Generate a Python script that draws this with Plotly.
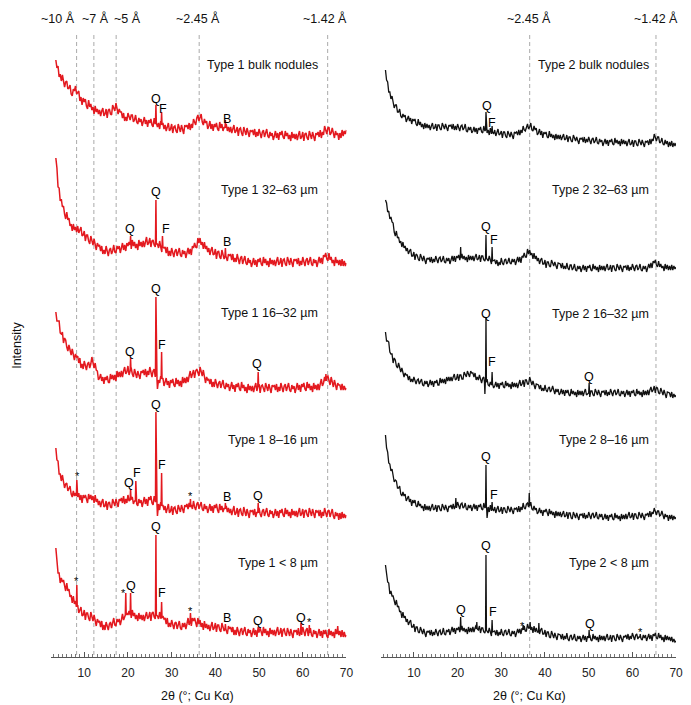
import plotly.graph_objects as go

W, H = 691, 705
FONT = "Liberation Sans, Arial, sans-serif"
RED = "#e3191f"
BLACK = "#111111"

# 2-theta sampling grid (degrees, Cu K-alpha), 0.25 deg steps from 3.5 to 70
TWO_THETA = [3.5 + 0.25 * i for i in range(267)]

# ---------------- Type 1 (red) relative intensities, 20 values per 5 deg ----------------
T1_BULK = [90,82,84,73,76,69,75,68,63,68,69,61,62,65,56,54,61,59,64,56,
           57,59,49,53,45,52,48,51,44,41,50,43,46,40,43,36,44,38,41,36,
           40,34,39,42,34,36,41,32,40,41,36,35,45,41,39,47,42,36,41,38,
           38,32,37,29,33,29,37,32,30,35,35,28,30,35,28,26,32,28,31,24,
           28,33,26,30,23,30,27,31,25,23,32,26,30,23,27,21,29,23,27,21,
           25,19,23,27,19,21,26,17,23,24,19,17,26,21,18,25,20,16,25,23,
           25,21,27,20,26,22,31,27,25,32,35,29,32,36,28,25,31,27,29,21,
           24,29,21,26,19,26,23,27,21,19,28,22,26,19,23,17,26,19,23,18,
           23,17,21,25,17,19,23,14,21,22,17,14,23,18,15,22,17,13,20,18,
           20,15,21,13,18,14,21,15,12,18,20,13,16,21,14,12,18,14,17,10,
           14,19,12,17,10,18,15,19,13,11,19,14,17,11,15,9,18,12,16,11,
           16,10,15,19,11,13,18,9,16,17,12,10,19,14,11,18,13,9,17,15,
           18,13,20,12,18,15,24,19,16,22,23,15,17,22,15,12,19,15,17,10,
           17,12,20,14,19,16,20]
T1_BULK_PK_X = [26.4, 27.7, 42.3]
T1_BULK_PK_TOP = [45, 38, 30]
T1_BULK_PK_BASE = [27, 25, 22]

T1_32_63 = [112,102,83,82,69,71,63,64,56,51,58,50,52,44,46,39,46,40,43,38,
            44,37,40,43,34,35,39,29,35,35,29,26,34,28,25,31,25,20,27,24,
            25,19,24,16,20,16,24,17,14,20,22,16,19,25,18,17,24,21,24,17,
            22,27,20,25,19,27,24,28,23,21,30,24,28,22,26,20,30,24,28,23,
            29,23,28,33,25,27,32,23,29,30,25,23,31,26,22,29,23,18,25,22,
            23,17,23,14,19,14,22,16,13,19,21,14,17,22,15,13,20,16,19,12,
            17,22,16,21,15,24,22,27,23,22,32,27,32,25,28,21,28,21,24,18,
            22,15,20,23,15,16,21,11,18,19,13,11,20,15,11,18,13,9,16,14,
            16,10,16,8,12,8,16,9,6,12,14,6,9,14,7,5,12,7,10,3,
            7,12,5,10,3,11,8,12,6,4,13,7,11,5,9,3,12,6,10,5,
            10,4,9,13,5,7,12,3,10,11,6,4,13,8,5,12,7,3,11,9,
            11,6,12,4,9,5,13,7,4,10,12,5,8,13,6,4,11,7,10,3,
            8,13,7,12,6,15,13,17,11,9,17,10,13,7,10,4,13,7,10,5,
            10,4,11,4,9,4,7]
T1_32_63_PK_X = [20.6, 26.4, 27.9, 42.3]
T1_32_63_PK_TOP = [34, 70, 34, 22]
T1_32_63_PK_BASE = [25, 26, 23, 14]

T1_16_32 = [83,74,74,74,62,61,63,52,57,55,48,44,50,44,40,46,40,35,41,38,
            39,32,37,27,31,26,34,28,25,31,33,27,31,38,31,27,32,25,24,15,
            17,21,14,18,11,18,15,19,13,12,21,16,20,15,20,14,24,18,23,18,
            24,18,24,28,21,23,29,20,26,27,21,18,26,21,17,24,20,16,24,22,
            25,20,26,18,24,20,28,22,18,24,26,18,20,24,15,12,19,14,17,9,
            12,17,10,14,7,15,12,16,10,8,17,11,15,9,14,8,18,12,17,12,
            18,13,19,24,17,20,25,17,24,26,21,19,28,22,19,25,18,12,18,15,
            16,11,16,8,13,8,16,10,7,12,14,7,10,15,8,6,12,8,11,4,
            8,13,6,10,3,11,8,12,6,4,13,7,10,4,8,2,11,5,9,4,
            9,3,8,12,4,6,11,2,9,10,5,3,12,7,4,11,6,2,10,8,
            10,5,11,3,8,4,12,6,3,9,11,4,7,12,5,3,10,6,9,2,
            7,12,5,10,3,11,8,12,6,4,13,7,11,5,9,3,12,6,10,5,
            11,5,11,16,9,12,18,10,18,19,13,10,18,12,8,15,9,5,12,10,
            10,5,11,5,9,5,7]
T1_16_32_PK_X = [20.6, 26.4, 26.75, 27.7, 49.8, 65.3]
T1_16_32_PK_TOP = [37, 98, 6, 43, 23, 21]
T1_16_32_PK_BASE = [24, 20, 15, 16, 8, 14]

T1_8_16 = [72,60,59,46,46,39,45,37,32,36,37,29,31,34,26,23,29,24,27,19,
           23,27,20,25,17,25,22,25,19,17,26,21,25,20,24,17,25,18,21,15,
           19,13,18,21,13,14,19,10,17,18,13,12,21,17,14,21,16,13,21,19,
           22,17,24,16,21,17,25,19,16,22,23,16,19,23,16,14,21,17,20,13,
           17,23,16,21,14,23,20,24,17,15,24,18,21,14,16,10,18,12,15,10,
           14,7,12,16,7,9,14,5,12,13,8,6,15,10,8,15,10,7,15,13,
           16,11,17,9,15,11,19,13,10,16,18,11,14,18,11,9,16,11,14,7,
           11,16,9,14,7,15,12,16,10,7,16,10,14,8,12,6,14,8,12,7,
           11,5,10,14,5,7,12,3,10,11,6,4,13,7,4,11,6,2,10,8,
           10,5,11,3,8,4,12,6,3,9,11,4,7,12,5,3,10,6,9,2,
           6,11,4,9,2,10,7,11,5,3,12,6,10,4,8,2,11,5,9,4,
           9,3,8,12,4,6,11,2,9,10,5,3,12,7,4,11,6,2,10,8,
           9,4,10,2,8,4,12,6,3,9,10,3,6,11,4,1,8,4,7,0,
           7,1,8,2,6,2,5]
T1_8_16_PK_X = [8.3, 20.6, 21.8, 26.4, 26.75, 27.7, 34.3, 42.3, 49.8]
T1_8_16_PK_TOP = [40, 31, 39, 108, 4, 47, 21, 17, 17]
T1_8_16_PK_BASE = [24, 20, 19, 18, 15, 14, 13, 11, 7]

T1_LT8 = [94,84,69,69,59,64,60,62,55,51,59,51,53,45,47,39,46,38,41,34,
          37,29,32,35,26,27,32,22,29,29,24,21,30,24,21,27,21,16,23,20,
          21,15,21,12,17,12,20,14,12,18,20,14,18,24,17,16,23,20,23,17,
          22,28,22,27,21,29,27,31,26,24,32,26,29,23,27,21,29,23,27,22,
          27,21,26,30,23,25,30,21,29,30,25,23,32,26,23,30,24,19,26,23,
          24,18,24,15,19,15,22,16,13,19,20,13,16,21,14,12,19,15,19,13,
          18,24,17,23,16,24,21,24,18,15,24,18,22,15,19,12,21,14,18,13,
          17,11,16,20,12,14,19,10,17,17,12,10,19,14,11,17,12,8,16,13,
          15,10,15,7,12,7,15,9,6,12,14,7,10,15,8,6,13,9,12,5,
          9,14,7,12,5,13,10,14,8,6,15,9,13,7,11,5,14,8,12,7,
          12,6,11,15,7,9,14,5,12,13,8,6,14,9,6,13,8,4,12,10,
          12,7,14,6,11,7,15,9,6,12,14,6,9,14,7,5,12,8,11,4,
          8,13,6,11,4,12,8,12,6,4,13,7,11,6,10,4,13,8,13,7,
          11,5,12,5,10,5,7]
T1_LT8_PK_X = [8.3, 19.5, 20.6, 26.4, 27.7, 34.3, 42.3, 49.8, 59.6, 61.5, 68.0]
T1_LT8_PK_TOP = [57, 49, 49, 107, 40, 29, 18, 15, 19, 17, 16]
T1_LT8_PK_BASE = [35, 27, 27, 27, 24, 20, 13, 10, 10, 9, 10]

# ---------------- Type 2 (black) relative intensities ----------------
T2_BULK = [80,70,68,58,58,51,54,46,42,45,45,38,38,41,34,32,36,33,35,28,
           31,34,29,32,26,31,29,31,26,24,31,25,28,23,26,21,27,22,26,22,
           25,20,24,27,21,22,26,19,25,25,21,20,27,23,21,26,22,19,25,24,
           25,21,26,20,24,20,26,21,19,24,25,20,22,26,19,18,23,20,23,17,
           19,23,18,22,16,22,20,23,18,17,24,19,22,17,20,15,22,16,20,16,
           20,14,18,21,15,16,19,12,18,18,14,12,19,15,13,18,14,11,18,17,
           18,15,20,15,20,17,24,20,19,24,26,21,23,27,20,19,24,20,22,15,
           17,21,15,19,12,18,16,18,13,12,19,13,16,12,15,10,16,11,15,11,
           15,10,13,16,10,11,15,8,13,13,9,8,15,11,9,13,9,6,12,11,
           12,8,13,7,11,8,13,8,6,11,12,7,9,13,7,6,11,8,10,4,
           7,11,6,10,4,10,8,11,6,5,12,7,10,6,9,4,11,6,10,6,
           9,4,8,11,5,6,10,3,9,9,5,4,11,7,5,10,6,3,9,8,
           9,5,11,6,11,9,16,11,9,13,13,7,8,12,6,5,10,6,9,3,
           8,4,9,3,7,4,7]
T2_BULK_PK_X = [26.5, 27.9]
T2_BULK_PK_TOP = [38, 24]
T2_BULK_PK_BASE = [20, 18]

T2_32_63 = [72,69,60,61,53,55,50,49,40,36,41,34,35,29,31,25,30,24,26,21,
            24,18,21,23,16,16,20,12,18,17,13,11,18,13,11,16,11,8,14,13,
            14,10,15,9,13,10,16,11,9,14,15,10,12,16,10,9,14,11,14,8,
            12,16,11,16,10,16,14,17,12,11,18,13,16,12,15,10,17,12,16,12,
            16,11,15,18,12,13,17,10,16,16,12,11,18,13,11,16,11,8,13,12,
            12,8,12,6,10,7,14,9,7,12,13,8,10,14,9,8,13,10,13,7,
            11,15,10,15,9,16,15,19,15,15,23,18,22,17,19,13,19,13,16,11,
            14,8,12,14,8,8,12,4,10,10,6,5,12,8,6,10,6,3,9,8,
            8,4,9,3,6,3,9,4,2,7,7,2,4,8,2,1,6,3,6,0,
            3,7,2,6,0,6,4,7,2,1,8,3,6,2,5,0,7,2,6,2,
            6,1,5,8,2,3,7,0,6,6,2,1,8,4,2,7,3,0,6,5,
            6,2,7,1,5,2,8,3,1,6,7,2,4,8,2,1,6,3,6,0,
            4,8,4,9,4,11,9,12,7,5,11,5,8,4,6,1,8,3,7,2,
            6,2,7,2,6,3,5]
T2_32_63_PK_X = [20.7, 26.5, 27.9]
T2_32_63_PK_TOP = [25, 37, 25]
T2_32_63_PK_BASE = [14, 14, 11]

T2_16_32 = [68,59,59,58,48,46,46,37,42,40,34,32,37,31,28,32,27,23,27,25,
            25,20,24,18,21,18,23,18,16,20,21,16,18,21,15,14,19,16,19,13,
            16,20,15,19,13,19,17,20,15,15,22,17,21,17,21,16,23,19,23,19,
            23,19,23,26,20,21,26,19,25,25,21,21,28,25,23,29,25,23,29,27,
            27,23,27,20,23,20,25,20,17,22,23,17,18,21,15,14,18,15,18,12,
            14,18,13,17,11,17,15,18,13,12,19,14,17,13,16,11,18,13,17,13,
            17,12,17,20,14,16,20,13,20,20,16,16,23,18,15,19,14,11,16,15,
            15,11,15,9,12,9,15,10,8,12,13,8,10,14,8,6,11,8,11,5,
            7,11,6,10,4,10,7,10,5,4,11,6,9,5,8,3,10,5,9,5,
            9,4,8,11,5,6,10,3,9,9,5,4,11,7,5,10,6,3,9,8,
            9,5,10,4,8,5,11,6,4,9,10,5,7,11,5,4,9,6,9,3,
            6,10,5,9,3,9,7,10,5,4,11,6,9,5,8,3,10,5,9,5,
            10,5,10,13,8,10,14,7,13,12,7,6,12,8,5,10,6,2,8,7,
            7,3,8,2,6,3,5]
T2_16_32_PK_X = [26.25, 26.5, 27.9, 50.1]
T2_16_32_PK_TOP = [6, 82, 28, 17]
T2_16_32_PK_BASE = [18, 18, 16, 7]

T2_8_16 = [87,74,70,59,58,51,53,45,40,42,41,34,34,36,28,26,30,26,28,21,
           23,26,20,23,16,22,19,22,16,15,21,16,18,14,16,11,18,12,16,12,
           16,11,15,18,12,13,17,10,16,16,12,11,18,14,12,17,13,10,16,15,
           17,13,18,13,17,14,20,15,13,18,19,14,15,19,13,12,17,14,17,11,
           14,18,13,17,11,17,15,18,13,12,19,14,17,12,15,10,17,11,15,11,
           15,9,13,16,10,11,15,8,14,14,10,9,16,12,10,15,11,8,14,13,
           14,10,16,10,15,12,19,14,13,18,19,15,17,20,13,12,16,12,14,8,
           10,14,9,12,6,12,10,13,8,6,13,8,11,7,10,4,11,6,10,6,
           10,5,8,11,5,6,10,3,9,9,4,3,10,6,4,9,5,2,8,7,
           8,4,9,3,7,4,10,5,3,8,9,4,6,10,4,3,8,5,8,2,
           4,8,3,7,1,7,5,8,3,2,9,4,7,3,6,1,8,3,7,3,
           8,3,7,10,4,5,9,2,8,8,4,3,10,6,4,9,5,2,8,7,
           9,5,11,5,10,8,14,9,7,11,11,6,7,11,5,3,8,5,7,1,
           7,3,7,2,6,3,5]
T2_8_16_PK_X = [19.6, 26.5, 26.75, 27.9, 36.4]
T2_8_16_PK_TOP = [24, 57, 4, 20, 29]
T2_8_16_PK_BASE = [16, 15, 14, 13, 16]

T2_LT8 = [80,73,63,62,51,54,49,49,43,40,45,38,39,33,34,27,33,27,29,23,
          26,20,23,25,18,18,21,13,18,18,13,12,18,14,11,16,11,8,14,13,
          14,10,15,9,13,10,16,11,9,14,15,10,12,17,11,10,15,13,16,10,
          14,18,13,17,11,17,15,18,13,12,19,14,17,13,16,11,18,13,17,13,
          18,13,17,20,14,15,19,12,17,17,13,12,19,14,12,17,13,9,15,14,
          14,10,15,9,13,10,16,11,9,14,15,10,12,16,10,9,14,11,14,8,
          12,16,12,16,11,17,15,19,14,14,21,17,20,15,18,12,19,13,17,13,
          17,11,15,17,11,11,15,8,13,13,8,7,14,10,7,12,8,5,11,10,
          10,6,11,5,9,6,12,6,4,9,10,5,7,11,5,4,9,6,9,3,
          6,10,5,9,3,9,7,10,5,4,11,6,9,5,8,3,10,5,9,5,
          9,4,8,11,5,6,10,3,9,9,5,4,11,7,5,10,6,3,9,8,
          10,6,11,5,9,6,12,7,5,10,11,6,8,12,6,5,10,7,10,4,
          7,11,6,10,4,11,9,12,7,6,12,7,10,5,8,3,10,5,9,5,
          8,4,8,3,6,3,4]
T2_LT8_PK_X = [20.7, 24.4, 26.5, 27.9, 35.0, 36.6, 38.6, 50.1, 61.8]
T2_LT8_PK_TOP = [28, 23, 90, 25, 20, 23, 22, 15, 11]
T2_LT8_PK_BASE = [15, 16, 15, 13, 15, 17, 13, 7, 8]

SAMPLES_1 = ["Type 1 bulk nodules", "Type 1 32\u201363 \u00b5m", "Type 1 16\u201332 \u00b5m",
             "Type 1 8\u201316 \u00b5m", "Type 1 < 8 \u00b5m"]
SAMPLES_2 = ["Type 2 bulk nodules", "Type 2 32\u201363 \u00b5m", "Type 2 16\u201332 \u00b5m",
             "Type 2 8\u201316 \u00b5m", "Type 2 < 8 \u00b5m"]

D_LABELS_1 = ["~10 \u00c5", "~7 \u00c5", "~5 \u00c5", "~2.45 \u00c5", "~1.42 \u00c5"]
D_POS_1 = [8.25, 12.2, 17.3, 36.3, 65.7]
D_LABELS_2 = ["~2.45 \u00c5", "~1.42 \u00c5"]
D_POS_2 = [36.5, 65.4]

TICKS = [10, 20, 30, 40, 50, 60, 70]

# vertical stacking offsets (layout)
OFF_1 = [507, 387, 262, 137, 15]
OFF_2 = [507, 385, 257, 135, 12]

SERIES_1 = [(T1_BULK, T1_BULK_PK_X, T1_BULK_PK_TOP, T1_BULK_PK_BASE),
            (T1_32_63, T1_32_63_PK_X, T1_32_63_PK_TOP, T1_32_63_PK_BASE),
            (T1_16_32, T1_16_32_PK_X, T1_16_32_PK_TOP, T1_16_32_PK_BASE),
            (T1_8_16, T1_8_16_PK_X, T1_8_16_PK_TOP, T1_8_16_PK_BASE),
            (T1_LT8, T1_LT8_PK_X, T1_LT8_PK_TOP, T1_LT8_PK_BASE)]
SERIES_2 = [(T2_BULK, T2_BULK_PK_X, T2_BULK_PK_TOP, T2_BULK_PK_BASE),
            (T2_32_63, T2_32_63_PK_X, T2_32_63_PK_TOP, T2_32_63_PK_BASE),
            (T2_16_32, T2_16_32_PK_X, T2_16_32_PK_TOP, T2_16_32_PK_BASE),
            (T2_8_16, T2_8_16_PK_X, T2_8_16_PK_TOP, T2_8_16_PK_BASE),
            (T2_LT8, T2_LT8_PK_X, T2_LT8_PK_TOP, T2_LT8_PK_BASE)]


def build(y, pk_x, pk_top, pk_base):
    assert len(y) == len(TWO_THETA), len(y)
    pts = [(x, v) for x, v in zip(TWO_THETA, y)
           if all(abs(x - p) > 0.12 for p in pk_x)]
    for p, t, b in zip(pk_x, pk_top, pk_base):
        pts += [(p - 0.1, b), (p, t), (p + 0.1, b)]
    pts.sort()
    return [a for a, _ in pts], [b for _, b in pts]


fig = go.Figure()
for series, offs, color, width, xa, ya in [(SERIES_1, OFF_1, RED, 1.5, "x", "y"),
                                           (SERIES_2, OFF_2, BLACK, 1.3, "x2", "y2")]:
    for (y, px_, pt, pb), off in zip(series, offs):
        xs, ys = build(y, px_, pt, pb)
        fig.add_trace(go.Scatter(x=xs, y=[off + v for v in ys], mode="lines",
                                 line=dict(color=color, width=width),
                                 xaxis=xa, yaxis=ya, hoverinfo="skip",
                                 showlegend=False))

Y0 = (H - 657) / H
Y1 = (H - 30) / H
axis_common = dict(range=[2.5, 70], showline=True, linecolor="#555", linewidth=1,
                   ticks="inside", ticklen=5, tickcolor="#555", tickvals=TICKS,
                   tickfont=dict(family=FONT, size=12, color="#222"),
                   ticklabelstandoff=5,
                   minor=dict(dtick=1, tick0=0, ticks="inside", ticklen=3, tickcolor="#777"),
                   showgrid=False, zeroline=False, fixedrange=True)
fig.update_layout(
    width=W, height=H, margin=dict(l=0, r=0, t=0, b=0),
    paper_bgcolor="white", plot_bgcolor="white",
    xaxis=dict(domain=[52 / W, 350 / W], anchor="y", **axis_common),
    xaxis2=dict(domain=[385 / W, 683 / W], anchor="y2", **axis_common),
    yaxis=dict(domain=[Y0, Y1], range=[0, 627], visible=False, fixedrange=True),
    yaxis2=dict(domain=[Y0, Y1], range=[0, 627], visible=False, anchor="x2", fixedrange=True),
)

shapes = []
for xa, positions in [("x", D_POS_1), ("x2", D_POS_2)]:
    for p in positions:
        shapes.append(dict(type="line", xref=xa, yref="paper", x0=p, x1=p,
                           y0=(H - 655) / H, y1=(H - 32) / H, layer="below",
                           line=dict(color="#aaaaaa", width=1, dash="4px,3px")))
fig.update_layout(shapes=shapes)


def ann(px, py, text, size=12.5, xanchor="center", angle=0, color="#111111"):
    return dict(x=px / W, y=1 - py / H, xref="paper", yref="paper", text=text,
                showarrow=False, xanchor=xanchor, yanchor="middle", textangle=angle,
                font=dict(family=FONT, size=size, color=color))


anns = []
# d-spacing labels
anns.append(ann(78, 18, D_LABELS_1[0], xanchor="right"))
anns.append(ann(96, 18, D_LABELS_1[1]))
anns.append(ann(113, 18, D_LABELS_1[2], xanchor="left"))
anns.append(ann(200, 18, D_LABELS_1[3]))
anns.append(ann(328, 18, D_LABELS_1[4]))
anns.append(ann(534.5, 18, D_LABELS_2[0]))
anns.append(ann(663, 18, D_LABELS_2[1]))

# sample labels
for name, py in zip(SAMPLES_1, [65, 190, 313, 440, 563]):
    anns.append(ann(323, py, name, xanchor="right"))
for name, py in zip(SAMPLES_2, [65, 190, 314, 440, 563]):
    anns.append(ann(657.5, py, name, xanchor="right"))

# mineral peak labels (Q quartz, F feldspar, B, * other phase)
PEAK_LABELS = [
    (157.3, 99.3, "Q"), (165, 109, "F"), (229, 119, "B"),
    (131.7, 229, "Q"), (157.3, 191.7, "Q"), (167.7, 229, "F"), (229, 241.7, "B"),
    (131, 351.7, "Q"), (157.3, 289.3, "Q"), (164, 345, "F"), (260, 364, "Q"),
    (78.3, 476, "*"), (130.5, 483, "Q"), (138.5, 472.7, "F"), (157.7, 405, "Q"),
    (163.3, 465, "F"), (192.3, 496, "*"), (229, 497.3, "B"), (261, 495.7, "Q"),
    (77.7, 581, "*"), (125, 593, "*"), (132.5, 586, "Q"), (157.7, 526.7, "Q"),
    (163.3, 592.7, "F"), (192.3, 611, "*"), (229, 617.7, "B"), (261, 620.7, "Q"),
    (304.3, 617.7, "Q"), (312.3, 622, "*"),
    (491.7, 106, "Q"), (497.5, 123, "F"),
    (490.7, 227, "Q"), (499, 240, "F"),
    (490.7, 314, "Q"), (497.3, 362, "F"), (595, 377, "Q"),
    (490.7, 457, "Q"), (499, 495, "F"),
    (465.7, 610, "Q"), (490.7, 546, "Q"), (498.3, 612, "F"), (528.3, 626, "*"),
    (595.7, 624, "Q"), (646.7, 632, "*"),
]
for px_, py_, t in PEAK_LABELS:
    anns.append(ann(px_, py_, t, size=(11 if t == "*" else 12.5), color="#000000"))

# axis titles
anns.append(ann(200, 696, "2\u03b8 (\u00b0; Cu K\u03b1)", size=12.5))
anns.append(ann(535, 696, "2\u03b8 (\u00b0; Cu K\u03b1)", size=12.5))
anns.append(ann(17, 345, "Intensity", size=12.5, angle=-90))
fig.update_layout(annotations=anns)

fig.write_html("out.html")
